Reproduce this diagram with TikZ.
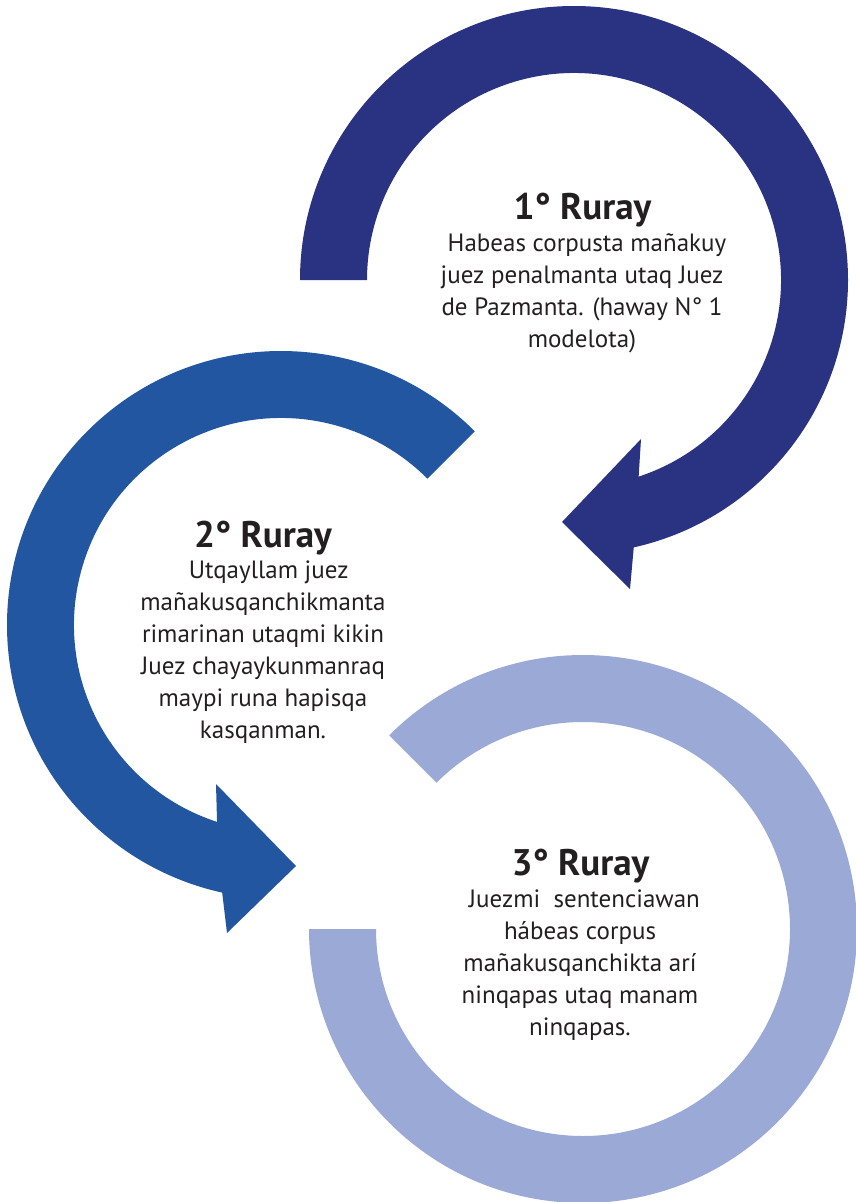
\documentclass[tikz,border=0pt]{standalone}
\usepackage{fontspec}
\setmainfont{PT Sans}
\definecolor{rurayone}{HTML}{2A3282}
\definecolor{raytwo}{HTML}{2356A1}
\definecolor{raythree}{HTML}{9AA9D5}
\definecolor{ink}{HTML}{231F20}
\begin{document}
\begin{tikzpicture}[x=1pt,y=1pt,
    title/.style={anchor=base,inner sep=0pt,text=ink,font=\bfseries\fontsize{37}{44}\selectfont},
    body/.style={anchor=north,inner sep=0pt,align=center,text=ink,font=\fontsize{25}{32}\selectfont}]
  \useasboundingbox (0,0) rectangle (856,-1202);
  \begin{scope}[shift={(574,-280)}]
    \fill[rurayone] (180:274) arc[start angle=180,end angle=-77.4,radius=274]
      -- (56,-309) -- (-12,-242) -- (67,-159) -- (-71.8:207)
      arc[start angle=-71.8,end angle=180,radius=207] -- cycle;
  \end{scope}
  \begin{scope}[shift={(281,-625)}]
    \fill[raytwo] (45:274) arc[start angle=45,end angle=257.6,radius=274]
      -- (-54,-308) -- (15,-241) -- (-65,-159) -- (252:207)
      arc[start angle=252,end angle=45,radius=207] -- cycle;
  \end{scope}
  \begin{scope}[shift={(583,-929)}]
    \fill[raythree] (135:274) arc[start angle=135,end angle=-180,radius=274]
      -- (-180:207) arc[start angle=-180,end angle=135,radius=207] -- cycle;
  \end{scope}
  \node[title] (t1) at (582.5,-219) {1° Ruray};
  \node[body] (b1) at (582,-229.3) {\strut\hspace*{0.4em}Habeas corpusta mañakuy\\
    juez penalmanta utaq Juez\\ de Pazmanta. (haway N° 1\\ modelota)};
  \node[title] (t2) at (263,-547) {2° Ruray};
  \node[body] (b2) at (263,-555.6) {\strut\hspace*{0.45em}Utqayllam juez\\
    mañakusqanchikmanta\\ rimarinan utaqmi kikin\\ Juez chayaykunmanraq\\
    maypi runa hapisqa\\ kasqanman.};
  \node[title] (t3) at (580.5,-875) {3° Ruray};
  \node[body] (b3) at (580,-884.6) {\strut\hspace*{0.35em}Juezmi~ sentenciawan\\
    hábeas corpus\\ mañakusqanchikta arí\\ ninqapas utaq manam\\ ninqapas.};
\end{tikzpicture}
\end{document}
